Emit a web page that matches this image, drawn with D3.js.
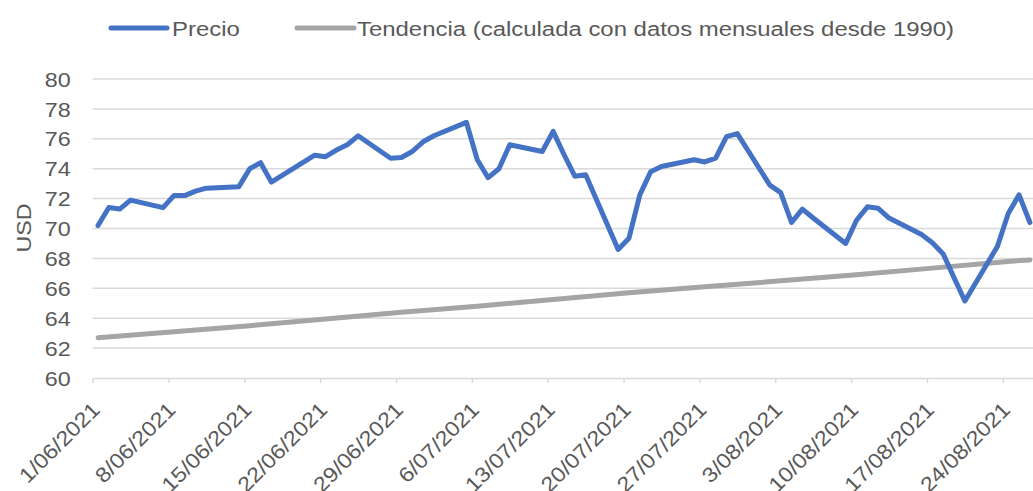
<!DOCTYPE html>
<html>
<head>
<meta charset="utf-8">
<script src="https://cdn.jsdelivr.net/npm/d3@7"></script>
<style>
  body { margin: 0; background: #fff; }
  svg { display: block; font-family: "Liberation Sans", Arial, sans-serif; }
</style>
</head>
<body>
<script>
// Precio diario (dias habiles) y tendencia
const fechas = [
  "2021-06-01","2021-06-02","2021-06-03","2021-06-04","2021-06-07","2021-06-08","2021-06-09","2021-06-10","2021-06-11",
  "2021-06-14","2021-06-15","2021-06-16","2021-06-17","2021-06-18","2021-06-21","2021-06-22","2021-06-23","2021-06-24",
  "2021-06-25","2021-06-28","2021-06-29","2021-06-30","2021-07-01","2021-07-02","2021-07-05","2021-07-06","2021-07-07",
  "2021-07-08","2021-07-09","2021-07-12","2021-07-13","2021-07-14","2021-07-15","2021-07-16","2021-07-19","2021-07-20",
  "2021-07-21","2021-07-22","2021-07-23","2021-07-26","2021-07-27","2021-07-28","2021-07-29","2021-07-30","2021-08-02",
  "2021-08-03","2021-08-04","2021-08-05","2021-08-06","2021-08-09","2021-08-10","2021-08-11","2021-08-12","2021-08-13",
  "2021-08-16","2021-08-17","2021-08-18","2021-08-19","2021-08-20","2021-08-23","2021-08-24","2021-08-25","2021-08-26"
];
const precio = [
  70.2, 71.4, 71.3, 71.9, 71.4, 72.2, 72.2, 72.5, 72.7,
  72.8, 74.0, 74.4, 73.1, 73.55, 74.9, 74.8, 75.25, 75.6,
  76.2, 74.7, 74.75, 75.15, 75.8, 76.2, 77.1, 74.6, 73.4,
  74.0, 75.6, 75.15, 76.5, 74.95, 73.5, 73.6, 68.6, 69.35,
  72.25, 73.8, 74.15, 74.6, 74.45, 74.7, 76.15, 76.35, 72.9,
  72.4, 70.4, 71.3, 70.7, 69.0, 70.55, 71.45, 71.35, 70.7,
  69.6, 69.05, 68.3, 66.7, 65.15, 68.8, 71.0, 72.25, 70.4
];
const fechasTendencia = [
  "2021-06-01","2021-06-08","2021-06-15","2021-06-22","2021-06-29","2021-07-06","2021-07-13",
  "2021-07-20","2021-07-27","2021-08-03","2021-08-10","2021-08-17","2021-08-24","2021-08-26"
];
const tendencia = [62.7, 63.1, 63.5, 63.95, 64.4, 64.8, 65.25, 65.7, 66.1, 66.5, 66.9, 67.35, 67.8, 67.9];

const etiquetasX = ["1/06/2021","8/06/2021","15/06/2021","22/06/2021","29/06/2021","6/07/2021","13/07/2021",
  "20/07/2021","27/07/2021","3/08/2021","10/08/2021","17/08/2021","24/08/2021"];
const ticksY = [60, 62, 64, 66, 68, 70, 72, 74, 76, 78, 80];

const W = 1033, H = 491;
const margen = { izq: 92.6, arriba: 79, abajo: 378 };
const gris = "#595959", rejilla = "#d9d9d9";
const ESTIRA = "scale(1.11,1)";

const parse = d3.utcParse("%Y-%m-%d");
const parseEtiqueta = d3.utcParse("%d/%m/%Y");
const medioDia = d => d3.utcHour.offset(parse(d), 12);

const svg = d3.select("body").append("svg")
  .attr("width", W)
  .attr("height", H);

// 10.836 px por dia, el eje sigue mas alla del borde derecho
const x = d3.scaleUtc()
  .domain([parse("2021-06-01"), parse("2021-08-29")])
  .range([margen.izq, margen.izq + 89 * 10.836]);

const y = d3.scaleLinear()
  .domain([60, 80])
  .range([margen.abajo, margen.arriba]);

// rejilla horizontal
svg.append("g")
  .selectAll("line")
  .data(ticksY.filter(v => v > 60))
  .join("line")
  .attr("x1", margen.izq).attr("x2", W)
  .attr("y1", d => y(d)).attr("y2", d => y(d))
  .attr("stroke", rejilla)
  .attr("stroke-width", 1.5);

// eje Y
const ejeY = svg.append("g")
  .attr("transform", `translate(${margen.izq},0)`)
  .call(d3.axisLeft(y).tickValues(ticksY).tickSize(0));
ejeY.select(".domain").remove();
ejeY.selectAll("text")
  .attr("x", 0)
  .attr("dy", "0.34em")
  .attr("transform", `translate(-22,0) ${ESTIRA}`)
  .attr("fill", gris)
  .style("font-size", "21px")
  .style("font-family", "Liberation Sans, Arial, sans-serif");

// eje X
const ejeX = svg.append("g")
  .attr("transform", `translate(0,${margen.abajo})`)
  .call(d3.axisBottom(x)
    .tickValues(etiquetasX.map(parseEtiqueta))
    .tickFormat((d, i) => etiquetasX[i])
    .tickSizeInner(5)
    .tickSizeOuter(0));
ejeX.select(".domain").attr("stroke", rejilla).attr("stroke-width", 1.5);
ejeX.selectAll(".tick line").attr("stroke", rejilla).attr("stroke-width", 1.5);
ejeX.selectAll("text")
  .attr("x", 0).attr("y", 0).attr("dy", 0)
  .attr("text-anchor", "end")
  .attr("transform", `translate(8,33) rotate(-45) ${ESTIRA}`)
  .attr("fill", gris)
  .style("font-size", "21px")
  .style("font-family", "Liberation Sans, Arial, sans-serif");

// titulo eje Y
svg.append("text")
  .attr("transform", `translate(23,228) rotate(-90) ${ESTIRA}`)
  .attr("text-anchor", "middle")
  .attr("dy", "0.36em")
  .attr("fill", gris)
  .style("font-size", "21px")
  .text("USD");

// lineas
const linea = d3.line()
  .x(d => x(d.fecha))
  .y(d => y(d.valor));

const plot = svg.append("g");

plot.append("path")
  .datum(fechasTendencia.map((f, i) => ({ fecha: medioDia(f), valor: tendencia[i] })))
  .attr("d", linea)
  .attr("fill", "none")
  .attr("stroke", "#a5a5a5")
  .attr("stroke-width", 5)
  .attr("stroke-linejoin", "round")
  .attr("stroke-linecap", "round");

plot.append("path")
  .datum(fechas.map((f, i) => ({ fecha: medioDia(f), valor: precio[i] })))
  .attr("d", linea)
  .attr("fill", "none")
  .attr("stroke", "#4472c4")
  .attr("stroke-width", 5)
  .attr("stroke-linejoin", "round")
  .attr("stroke-linecap", "round");

// leyenda
const leyenda = [
  { nombre: "Precio", color: "#4472c4", x1: 111, x2: 167, tx: 172 },
  { nombre: "Tendencia (calculada con datos mensuales desde 1990)", color: "#a5a5a5", x1: 297, x2: 354, tx: 357 }
];
const ley = svg.append("g")
  .selectAll("g")
  .data(leyenda)
  .join("g");
ley.append("line")
  .attr("x1", d => d.x1).attr("x2", d => d.x2)
  .attr("y1", 28).attr("y2", 28)
  .attr("stroke", d => d.color)
  .attr("stroke-width", 5)
  .attr("stroke-linecap", "round");
ley.append("text")
  .attr("transform", d => `translate(${d.tx},36) scale(1.14,1)`)
  .attr("fill", gris)
  .style("font-size", "21px")
  .text(d => d.nombre);
</script>
</body>
</html>
